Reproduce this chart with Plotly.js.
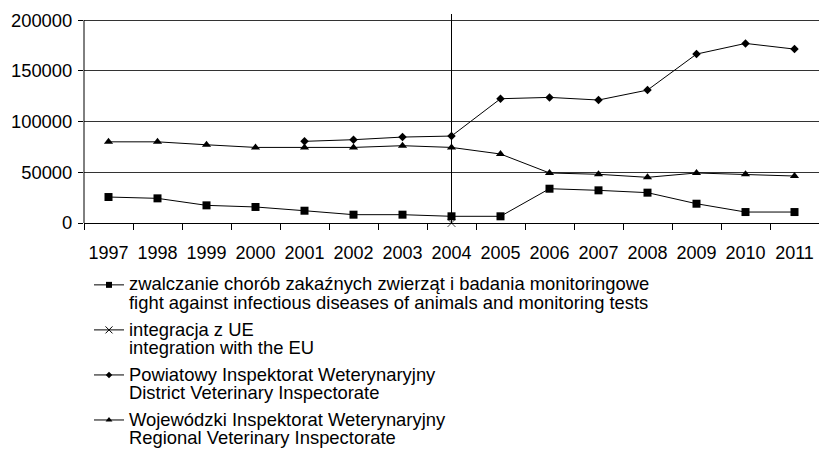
<!DOCTYPE html>
<html>
<head>
<meta charset="utf-8">
<script src="https://cdn.plot.ly/plotly-3.0.1.min.js"></script>
<style>
  html, body { margin: 0; padding: 0; background: #fff; }
  #chart { width: 819px; height: 458px; }
</style>
</head>
<body>
<div id="chart"></div>
<script>
// ---- data ----
const years = ['1997','1998','1999','2000','2001','2002','2003','2004','2005','2006','2007','2008','2009','2010','2011'];
const zwalczanie = [25600, 24300, 17400, 15800, 12100, 8200, 8200, 6600, 6600, 33800, 32200, 29900, 19000, 10800, 10800];
const powiatowy = [null, null, null, null, 80500, 82100, 84700, 85700, 122500, 123800, 121200, 131000, 166500, 177000, 171400];
const wojewodzki = [80000, 80000, 77100, 74500, 74500, 74500, 76200, 74500, 68000, 49300, 48000, 45000, 49300, 48000, 46300];
const integracjaX = ['2004', '2004'];
const integracjaY = [0, 206000];
const yTicks = [0, 50000, 100000, 150000, 200000];

const names = [
  ['zwalczanie chorób zakaźnych zwierząt i badania monitoringowe', 'fight against infectious diseases of animals and monitoring tests'],
  ['integracja z UE', 'integration with the EU'],
  ['Powiatowy Inspektorat Weterynaryjny', 'District Veterinary Inspectorate'],
  ['Wojewódzki Inspektorat Weterynaryjny', 'Regional Veterinary Inspectorate']
];

// ---- styling ----
const FONT = '"Liberation Sans", Arial, sans-serif';
const span = s => '<span style="font-size:18.4px">' + s + '</span>';
const legName = pair => span(pair[0]) + '<br>' + span(pair[1]);
const line = {color: '#000', width: 1};

const traces = [
  {x: years, y: zwalczanie, type: 'scatter', mode: 'lines+markers', showlegend: false,
   line: line, marker: {symbol: 'square', size: 8, color: '#000'}},
  {x: years, y: wojewodzki, type: 'scatter', mode: 'lines+markers', showlegend: false,
   line: line, marker: {symbol: 'triangle-up', size: 8, color: '#000'}},
  {x: years, y: powiatowy, type: 'scatter', mode: 'lines+markers', showlegend: false,
   line: line, marker: {symbol: 'diamond', size: 6.5, color: '#000'}},
  {x: integracjaX, y: integracjaY, type: 'scatter', mode: 'lines+markers', showlegend: false, cliponaxis: false,
   line: line, marker: {symbol: 'x-thin-open', size: [8, 0], color: '#000', line: {color: '#000', width: 1}}},
  // legend entries
  {x: [null], y: [null], type: 'scatter', mode: 'lines+markers', name: legName(names[0]), legendgroup: 'a',
   line: line, marker: {symbol: 'square', size: 6, color: '#000'}},
  {x: [null], y: [null], type: 'scatter', mode: 'lines+markers', name: legName(names[1]), legendgroup: 'b',
   line: line, marker: {symbol: 'x-thin-open', size: 7, color: '#000', line: {color: '#000', width: 1}}},
  {x: [null], y: [null], type: 'scatter', mode: 'lines+markers', name: legName(names[2]), legendgroup: 'c',
   line: line, marker: {symbol: 'diamond', size: 5, color: '#000'}},
  {x: [null], y: [null], type: 'scatter', mode: 'lines+markers', name: legName(names[3]), legendgroup: 'd',
   line: line, marker: {symbol: 'triangle-up', size: 6, color: '#000'}}
];

const layout = {
  width: 819, height: 458,
  margin: {l: 84, r: 0, t: 14, b: 235},
  paper_bgcolor: '#fff', plot_bgcolor: '#fff',
  font: {family: FONT, size: 18, color: '#000'},
  showlegend: true,
  xaxis: {
    type: 'category', categoryorder: 'array', categoryarray: years,
    range: [-0.5, years.length - 0.5],
    showgrid: false, zeroline: false,
    showline: true, linecolor: '#000', linewidth: 1,
    ticks: 'outside', tickson: 'boundaries', ticklen: 6, tickcolor: '#000', tickwidth: 1,
    tickangle: 0, ticklabelstandoff: 13,
    tickfont: {family: FONT, size: 18, color: '#000'}
  },
  yaxis: {
    range: [0, integracjaY[1]],
    tickvals: yTicks, tickformat: 'd',
    showgrid: true, gridcolor: '#333', gridwidth: 1,
    zeroline: false, showline: false,
    ticks: 'outside', ticklen: 5, tickcolor: '#000', tickwidth: 1,
    ticklabelstandoff: 2,
    tickfont: {family: FONT, size: 18.4, color: '#000'}
  },
  shapes: [
    {type: 'line', xref: 'paper', x0: 0, x1: 0, yref: 'y', y0: yTicks[0], y1: yTicks[yTicks.length - 1],
     line: {color: '#000', width: 1}}
  ],
  legend: {
    x: 5 / 735, xanchor: 'left',
    y: (223 - 269) / 209, yanchor: 'top',
    font: {family: FONT, size: 14.4, color: '#000'},
    valign: 'top', traceorder: 'grouped', tracegroupgap: 4.6,
    bgcolor: 'rgba(0,0,0,0)', borderwidth: 0, itemclick: false, itemdoubleclick: false
  }
};

Plotly.newPlot('chart', traces, layout, {displayModeBar: false, staticPlot: true});
</script>
</body>
</html>
